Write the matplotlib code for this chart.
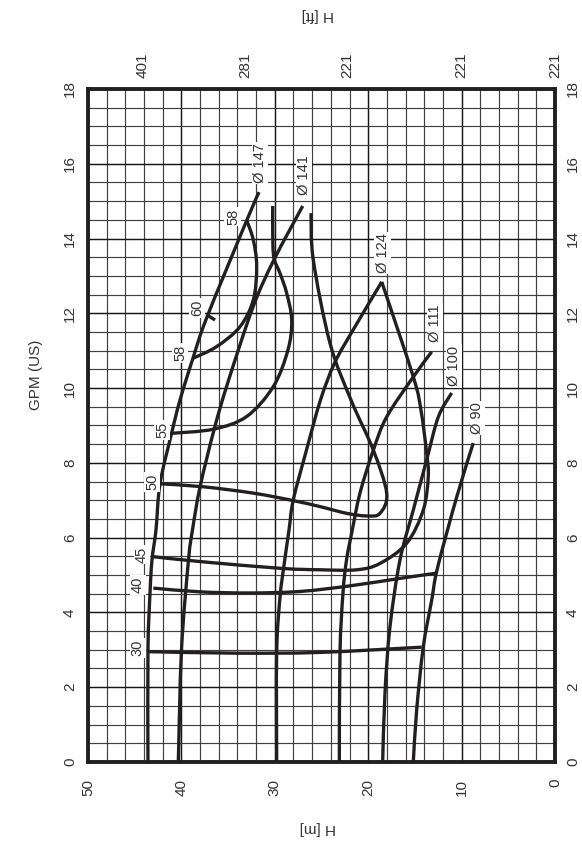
import matplotlib
matplotlib.use("Agg")
import matplotlib.pyplot as plt
import numpy as np
from matplotlib.ticker import MultipleLocator
from matplotlib.path import Path
from matplotlib.patches import PathPatch

plt.rcParams['font.family'] = ['Liberation Sans', 'DejaVu Sans']

# impeller head curves: head H [m] vs flow GPM (US)
d147_h = [43.58, 43.58, 43.36, 43.15, 42.72, 42.29, 41.04, 40.15, 38.76, 37.26, 32.98, 31.69]
d147_q = [0.0, 3.00, 4.52, 5.40, 6.21, 7.44, 8.80, 9.68, 10.80, 11.90, 14.50, 15.24]
d141_h = [40.33, 39.99, 39.24, 38.81, 38.01, 36.51, 35.05, 32.33, 30.09, 27.01]
d141_q = [0.0, 3.00, 5.40, 6.21, 7.35, 8.88, 10.13, 12.17, 13.43, 14.87]
d124_h = [29.80, 29.80, 29.44, 29.01, 28.48, 28.02, 26.61, 25.11, 23.60, 21.63, 18.55]
d124_q = [0.0, 2.92, 4.41, 5.27, 6.20, 7.01, 8.34, 9.68, 10.67, 11.55, 12.84]
d111_h = [23.09, 23.02, 22.70, 22.32, 21.77, 20.88, 19.45, 18.02, 15.17, 13.20]
d111_q = [0.0, 2.92, 4.52, 5.40, 6.12, 7.19, 8.34, 9.23, 10.30, 10.97]
d100_h = [18.45, 18.20, 17.67, 16.60, 15.17, 13.74, 12.49, 11.06]
d100_q = [0.0, 1.85, 3.61, 5.40, 6.74, 8.08, 9.23, 9.87]
d90_h = [15.17, 14.81, 14.10, 13.20, 12.58, 10.52, 8.75]
d90_q = [0.0, 1.39, 3.08, 4.33, 5.19, 7.09, 8.53]

# efficiency iso-lines
e30_h = [43.54, 34.08, 25.16, 14.27]
e30_q = [2.95, 2.91, 2.93, 3.07]
e40_h = [43.01, 38.01, 32.66, 27.30, 21.95, 16.60, 12.67]
e40_q = [4.65, 4.55, 4.52, 4.56, 4.71, 4.91, 5.05]
e45_h = [43.01, 38.01, 29.44, 25.16, 21.23, 18.74, 15.88, 14.10, 13.57, 13.74, 14.35, 15.17, 18.55]
e45_q = [5.49, 5.36, 5.18, 5.14, 5.14, 5.31, 5.85, 6.74, 7.63, 8.26, 9.41, 10.30, 12.84]
e50_h = [42.29, 37.66, 32.30, 28.02, 25.16, 22.30, 20.16, 18.74, 18.02, 19.45, 21.84, 24.09, 25.88, 26.12]
e50_q = [7.44, 7.36, 7.19, 6.99, 6.83, 6.65, 6.58, 6.65, 7.19, 8.34, 9.68, 11.20, 13.43, 14.68]
e55_h = [41.04, 36.58, 33.01, 30.16, 28.59, 28.19, 28.73, 29.44, 30.09, 30.22, 30.22]
e55_q = [8.79, 8.90, 9.24, 10.04, 11.02, 11.82, 12.54, 13.07, 13.48, 14.09, 14.87]
e58_h = [38.73, 36.22, 33.73, 32.30, 31.94, 32.30, 33.01]
e58_q = [10.80, 11.11, 11.64, 12.36, 13.25, 13.96, 14.49]
e60_h = [37.29, 36.40]
e60_q = [11.96, 11.82]

curves = [(d147_h, d147_q), (d141_h, d141_q), (d124_h, d124_q), (d111_h, d111_q),
          (d100_h, d100_q), (d90_h, d90_q), (e30_h, e30_q), (e40_h, e40_q),
          (e45_h, e45_q), (e50_h, e50_q), (e55_h, e55_q), (e58_h, e58_q), (e60_h, e60_q)]

# curve labels
lbl_text = ['Ø 147', 'Ø 141', 'Ø 124', 'Ø 111', 'Ø 100', 'Ø 90',
            '58', '60', '58', '55', '50', '45', '40', '30']
lbl_h = [31.58, 26.87, 18.42, 12.85, 10.81, 8.35, 34.48, 38.33, 40.15, 42.08, 43.15, 44.22, 44.65, 44.65]
lbl_q = [16.02, 15.70, 13.61, 11.74, 10.59, 9.20, 14.58, 12.14, 10.94, 8.88, 7.49, 5.54, 4.73, 3.05]

ft_pos = [44.2, 33.2, 22.2, 10.0, 0.0]
ft_labels = ['401', '281', '221', '221', '221']

ink = '#231f20'


def smooth_path(xs, ys):
    # cubic bezier through the read points (catmull-rom tangents)
    p = np.column_stack([xs, ys]).astype(float)
    if len(p) < 3:
        return Path(p)
    verts = [p[0]]
    codes = [Path.MOVETO]
    n = len(p)
    for i in range(n - 1):
        p0 = p[i - 1] if i > 0 else p[i]
        p1, p2 = p[i], p[i + 1]
        p3 = p[i + 2] if i + 2 < n else p[i + 1]
        c1 = p1 + (p2 - p0) / 6.0
        c2 = p2 - (p3 - p1) / 6.0
        verts += [c1, c2, p2]
        codes += [Path.CURVE4] * 3
    return Path(verts, codes)


fig = plt.figure(figsize=(5.82, 8.44), dpi=100)
ax = fig.add_axes([0.1512, 0.0972, 0.8024, 0.7974])
ax.set_xlim(50, 0)
ax.set_ylim(0, 18)

ax.xaxis.set_major_locator(MultipleLocator(10))
ax.xaxis.set_minor_locator(MultipleLocator(2))
ax.yaxis.set_major_locator(MultipleLocator(2))
ax.yaxis.set_minor_locator(MultipleLocator(0.5))
ax.grid(True, which='minor', color='#404040', lw=0.85)
ax.grid(True, which='major', color='#151515', lw=1.05)
ax.set_axisbelow(True)

for h, q in curves:
    ax.add_patch(PathPatch(smooth_path(h, q), facecolor='none', edgecolor=ink, lw=2.4,
                           capstyle='butt', joinstyle='round', zorder=3))

for t, h, q in zip(lbl_text, lbl_h, lbl_q):
    ax.text(h, q, t, rotation=90, ha='center', va='center', fontsize=10.5, color='#333333',
            zorder=4, bbox=dict(facecolor='white', edgecolor='none', pad=1.0))

for s in ax.spines.values():
    s.set_linewidth(2.8)
    s.set_color(ink)

ax.tick_params(which='both', length=0)
ax.tick_params(axis='y', labelright=True, labelrotation=90, labelsize=11, pad=8, colors='#333333')
ax.tick_params(axis='x', labelrotation=90, labelsize=11, pad=12, colors='#333333')
for lab in ax.get_yticklabels():
    lab.set_va('center')

top = ax.twiny()
top.set_xlim(50, 0)
top.set_xticks(ft_pos)
top.set_xticklabels(ft_labels)
top.tick_params(length=0, labelrotation=90, labelsize=11, pad=8, colors='#333333')
for s in top.spines.values():
    s.set_visible(False)

fig.text(0.062, 0.556, 'GPM (US)', rotation=90, ha='center', va='center', fontsize=11, color='#333333')
fig.text(0.546, 0.019, 'H [m]', rotation=180, ha='center', va='center', fontsize=11, color='#333333')
fig.text(0.546, 0.982, 'H [ft]', rotation=180, ha='center', va='center', fontsize=11, color='#333333')

fig.savefig('out.png', dpi=100)
